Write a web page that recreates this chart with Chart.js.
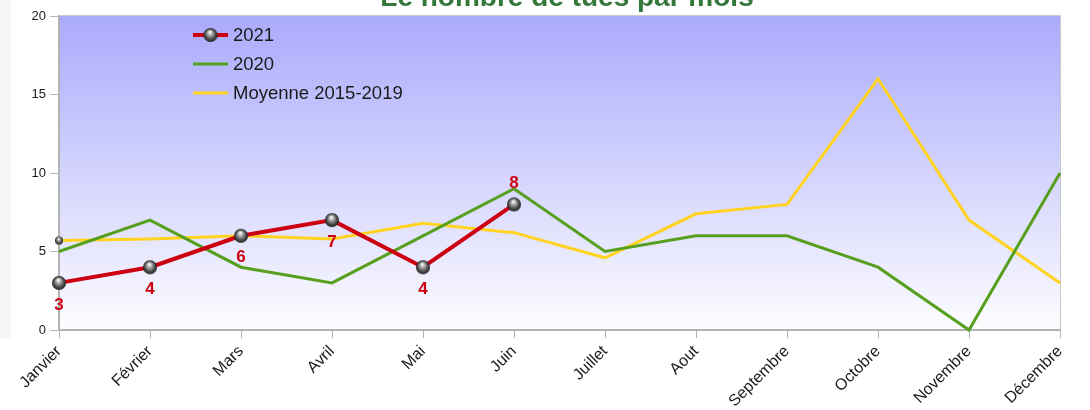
<!DOCTYPE html>
<html>
<head>
<meta charset="utf-8">
<script src="https://cdn.jsdelivr.net/npm/chart.js@4/dist/chart.umd.min.js"></script>
<style>
  html, body { margin: 0; padding: 0; background: #fff; }
  #wrap { position: relative; width: 1090px; height: 410px; }
  #strip { position: absolute; left: 0; top: 0; width: 11px; height: 338px; background: #f6f6f6; }
  #chart { position: absolute; left: 0; top: 0; }
</style>
</head>
<body>
<div id="wrap">
  <div id="strip"></div>
  <canvas id="chart" width="1090" height="410"></canvas>
</div>
<script>
// Le nombre de tués par mois
const months = ['Janvier', 'Février', 'Mars', 'Avril', 'Mai', 'Juin', 'Juillet',
    'Aout', 'Septembre', 'Octobre', 'Novembre', 'Décembre'];
const deaths2021 = [3, 4, 6, 7, 4, 8];
const deaths2020 = [5, 7, 4, 3, 6, 9, 5, 6, 6, 4, 0, 10];
const average2015_2019 = [5.7, 5.8, 6.0, 5.8, 6.8, 6.2, 4.6, 7.4, 8.0, 16.0, 7.0, 3.0];
const yTicks = [0, 5, 10, 15, 20];

// where the value labels of 2021 go
const labelSide = ['below', 'below', 'below', 'below', 'below', 'above'];

const RED = '#cc0011';
const GREEN = '#57a01f';
const YELLOW = '#ffd320';
const FONT = "'Liberation Sans', Arial, sans-serif";

// grey glossy ball used as marker
function makeSphere(r) {
    const c = document.createElement('canvas');
    c.width = c.height = r * 2 + 2;
    const g = c.getContext('2d');
    const cx = r + 1, cy = r + 1;
    const grad = g.createRadialGradient(cx - r * 0.1, cy - r * 0.45, r * 0.05, cx, cy, r);
    grad.addColorStop(0, '#ffffff');
    grad.addColorStop(0.3, '#b0b0b0');
    grad.addColorStop(0.7, '#505050');
    grad.addColorStop(1, '#202020');
    g.fillStyle = grad;
    g.beginPath();
    g.arc(cx, cy, r, 0, Math.PI * 2);
    g.fill();
    return c;
}
const bigBall = makeSphere(7);
const smallBall = makeSphere(4);

const areaBackground = {
    id: 'areaBackground',
    beforeDraw(chart) {
        const { ctx, chartArea: a } = chart;
        const grad = ctx.createLinearGradient(0, a.top, 0, a.bottom);
        grad.addColorStop(0, '#aaaafc');
        grad.addColorStop(1, '#fdfdff');
        ctx.save();
        ctx.fillStyle = grad;
        ctx.fillRect(a.left, a.top, a.right - a.left, a.bottom - a.top);
        ctx.strokeStyle = '#c8c8c8';
        ctx.lineWidth = 1;
        ctx.beginPath();
        ctx.moveTo(a.left, a.top - 0.5);
        ctx.lineTo(a.right + 0.5, a.top - 0.5);
        ctx.lineTo(a.right + 0.5, a.bottom);
        ctx.stroke();
        // title, partly outside the page like in the original
        ctx.fillStyle = '#35773a';
        ctx.font = 'bold 28px ' + FONT;
        ctx.textAlign = 'center';
        ctx.textBaseline = 'alphabetic';
        ctx.fillText('Le nombre de tués par mois', 567, 6);
        ctx.restore();
    }
};

const valueLabels = {
    id: 'valueLabels',
    afterDatasetsDraw(chart) {
        const { ctx } = chart;
        const meta = chart.getDatasetMeta(0);
        ctx.save();
        ctx.fillStyle = RED;
        ctx.font = 'bold 17px ' + FONT;
        ctx.textAlign = 'center';
        ctx.textBaseline = 'middle';
        meta.data.forEach((pt, i) => {
            const dy = labelSide[i] === 'above' ? -21 : 22;
            ctx.fillText(String(deaths2021[i]), pt.x, pt.y + dy);
        });
        ctx.restore();
    }
};

const insideLegend = {
    id: 'insideLegend',
    afterDraw(chart) {
        const { ctx } = chart;
        const x0 = 193, x1 = 228, top = 35, step = 29;
        ctx.save();
        ctx.font = '18.5px ' + FONT;
        ctx.textBaseline = 'middle';
        ctx.textAlign = 'left';
        chart.data.datasets.forEach((ds, i) => {
            const y = top + i * step;
            ctx.strokeStyle = ds.borderColor;
            ctx.lineWidth = ds.borderWidth;
            ctx.beginPath();
            ctx.moveTo(x0, y);
            ctx.lineTo(x1, y);
            ctx.stroke();
            if (i === 0) {
                ctx.drawImage(bigBall, (x0 + x1) / 2 - bigBall.width / 2, y - bigBall.height / 2);
            }
            ctx.fillStyle = '#1a1a1a';
            ctx.fillText(ds.label, x1 + 5, y + 1);
        });
        ctx.restore();
    }
};

new Chart(document.getElementById('chart'), {
    type: 'line',
    data: {
        labels: months,
        datasets: [
            {
                label: '2021',
                data: deaths2021,
                borderColor: RED,
                backgroundColor: RED,
                borderWidth: 4,
                pointStyle: bigBall,
                pointRadius: 6,
                tension: 0,
                clip: false,
                order: 0
            },
            {
                label: '2020',
                data: deaths2020,
                borderColor: GREEN,
                backgroundColor: GREEN,
                borderWidth: 3,
                pointRadius: 0,
                tension: 0,
                clip: false,
                order: 1
            },
            {
                label: 'Moyenne 2015-2019',
                data: average2015_2019,
                borderColor: YELLOW,
                backgroundColor: YELLOW,
                borderWidth: 3,
                pointStyle: smallBall,
                pointRadius: average2015_2019.map((v, i) => i === 0 ? 3 : 0),
                tension: 0,
                clip: false,
                order: 2
            }
        ]
    },
    options: {
        responsive: false,
        animation: false,
        events: [],
        layout: { padding: { top: 16, right: 30, left: 0, bottom: 0 } },
        plugins: {
            legend: { display: false },
            title: { display: false },
            tooltip: { enabled: false }
        },
        scales: {
            x: {
                offset: false,
                grid: {
                    display: true,
                    drawOnChartArea: false,
                    tickLength: 8,
                    color: '#b3b3b3'
                },
                border: { color: '#b3b3b3', width: 2 },
                ticks: {
                    autoSkip: false,
                    maxRotation: 45,
                    minRotation: 45,
                    padding: 4,
                    color: '#1a1a1a',
                    font: { family: FONT, size: 16 }
                },
                afterFit(scale) { scale.height = 80; }
            },
            y: {
                min: 0,
                max: 20,
                afterBuildTicks(scale) { scale.ticks = yTicks.map(v => ({ value: v })); },
                grid: {
                    display: true,
                    drawOnChartArea: false,
                    tickLength: 9,
                    color: '#b3b3b3'
                },
                border: { color: '#b3b3b3', width: 2 },
                ticks: {
                    padding: 4,
                    color: '#1a1a1a',
                    font: { family: FONT, size: 13 }
                },
                afterFit(scale) { scale.width = 59; }
            }
        }
    },
    plugins: [areaBackground, valueLabels, insideLegend]
});
</script>
</body>
</html>
